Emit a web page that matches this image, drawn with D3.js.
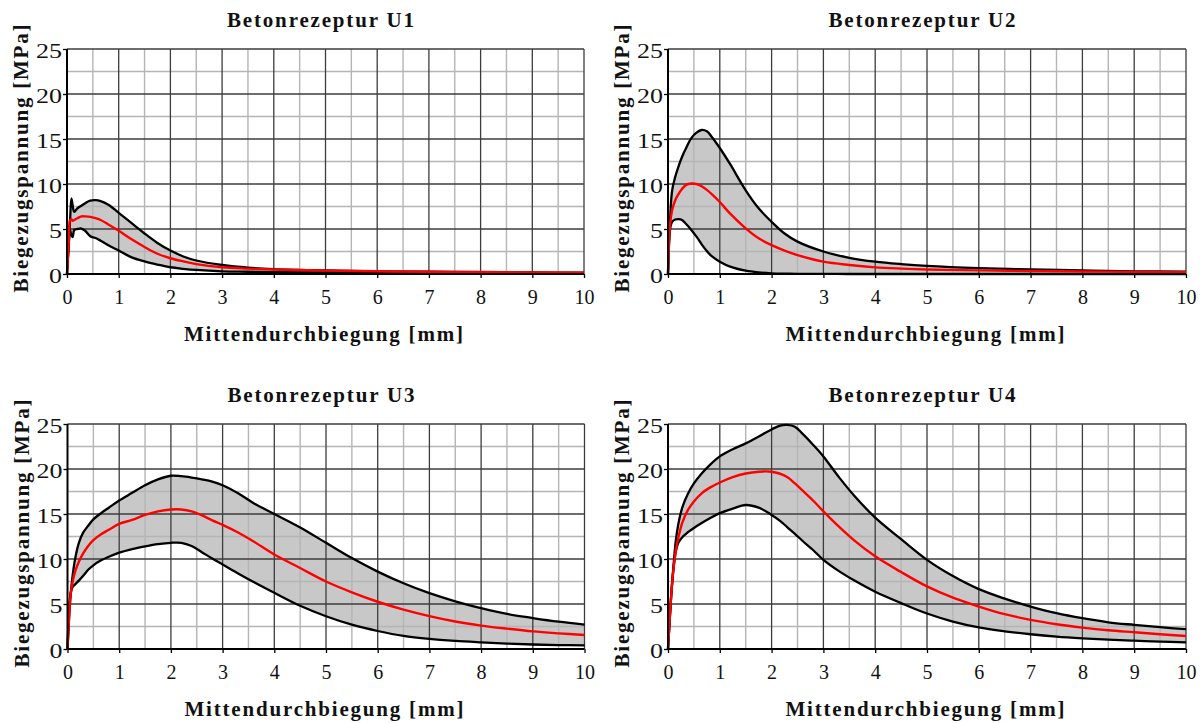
<!DOCTYPE html>
<html>
<head>
<meta charset="utf-8">
<script src="https://cdn.jsdelivr.net/npm/d3@7"></script>
<style>
  html, body { margin: 0; padding: 0; background: #fff; }
  svg { display: block; }
</style>
</head>
<body>
<svg id="chart" width="1200" height="723"></svg>
<script>
// ---------- data ----------
const titles = ["Betonrezeptur U1", "Betonrezeptur U2", "Betonrezeptur U3", "Betonrezeptur U4"];
const xLabel = "Mittendurchbiegung [mm]";
const yLabel = "Biegezugspannung [MPa]";
const xTickValues = [0, 1, 2, 3, 4, 5, 6, 7, 8, 9, 10];
const yTickValues = [0, 5, 10, 15, 20, 25];

const xU1     = [0, 0.03, 0.06, 0.085, 0.11, 0.14, 0.2, 0.28, 0.36, 0.45, 0.55, 0.65, 0.8, 1.0, 1.25, 1.5, 1.75, 2.0, 2.25, 2.5, 3, 3.5, 4, 5, 6, 7, 8, 9, 10];
const upperU1 = [0, 3.0, 6.0, 8.4, 7.6, 6.9, 7.3, 7.6, 7.9, 8.15, 8.2, 8.1, 7.7, 6.8, 5.65, 4.5, 3.45, 2.6, 1.95, 1.5, 1.0, 0.7, 0.55, 0.4, 0.3, 0.25, 0.2, 0.17, 0.15];
const meanU1  = [0, 3.0, 6.0, 6.1, 5.9, 6.0, 6.2, 6.4, 6.4, 6.35, 6.2, 6.0, 5.5, 4.8, 3.85, 3.0, 2.25, 1.75, 1.4, 1.1, 0.75, 0.6, 0.5, 0.38, 0.3, 0.25, 0.22, 0.18, 0.15];
const lowerU1 = [0, 3.0, 4.9, 4.3, 4.1, 4.9, 5.0, 5.05, 4.75, 4.2, 4.0, 3.7, 3.2, 2.6, 1.85, 1.4, 1.05, 0.75, 0.58, 0.45, 0.3, 0.25, 0.2, 0.15, 0.12, 0.1, 0.09, 0.08, 0.08];

const xU2     = [0, 0.04, 0.08, 0.14, 0.2, 0.27, 0.35, 0.45, 0.55, 0.65, 0.75, 0.85, 1.0, 1.2, 1.5, 1.75, 2.0, 2.25, 2.5, 3, 3.5, 4, 4.5, 5, 6, 7, 8, 9, 10];
const upperU2 = [0, 6.0, 9.3, 10.8, 11.9, 13.0, 14.0, 15.1, 15.7, 16.0, 15.85, 15.2, 14.0, 12.2, 9.3, 7.3, 5.8, 4.5, 3.6, 2.5, 1.8, 1.37, 1.1, 0.9, 0.65, 0.5, 0.4, 0.3, 0.25];
const meanU2  = [0, 5.5, 7.1, 8.2, 8.85, 9.45, 9.9, 10.05, 10.0, 9.75, 9.35, 8.85, 8.0, 6.7, 5.07, 3.96, 3.2, 2.6, 2.1, 1.37, 1.0, 0.74, 0.6, 0.5, 0.4, 0.33, 0.28, 0.24, 0.2];
const lowerU2 = [0, 5.0, 5.8, 6.05, 6.1, 6.0, 5.55, 4.9, 4.15, 3.3, 2.55, 1.95, 1.37, 0.82, 0.37, 0.18, 0.08, 0.04, 0.02, 0.01, 0, 0, 0, 0, 0, 0, 0, 0, 0];

const xU3     = [0, 0.06, 0.1, 0.15, 0.22, 0.3, 0.4, 0.5, 0.65, 0.8, 1.0, 1.25, 1.5, 1.75, 2.0, 2.2, 2.4, 2.6, 2.8, 3.0, 3.3, 3.6, 4.0, 4.5, 5.0, 5.5, 6.0, 6.5, 7, 7.5, 8, 8.5, 9, 9.5, 10];
const upperU3 = [0, 6.0, 8.2, 10.1, 11.8, 12.9, 13.7, 14.4, 15.1, 15.7, 16.5, 17.35, 18.2, 18.85, 19.25, 19.2, 19.05, 18.85, 18.6, 18.2, 17.3, 16.2, 15.0, 13.5, 11.8, 10.1, 8.6, 7.3, 6.2, 5.3, 4.55, 3.9, 3.44, 3.03, 2.7];
const meanU3  = [0, 6.0, 7.5, 8.65, 9.7, 10.6, 11.45, 12.1, 12.75, 13.25, 13.9, 14.35, 14.9, 15.3, 15.5, 15.5, 15.3, 14.85, 14.3, 13.8, 12.95, 11.95, 10.5, 9.0, 7.5, 6.3, 5.25, 4.37, 3.65, 3.05, 2.6, 2.26, 1.96, 1.74, 1.55];
const lowerU3 = [0, 6.2, 6.9, 7.2, 7.6, 8.1, 8.8, 9.3, 9.85, 10.25, 10.7, 11.1, 11.4, 11.65, 11.8, 11.8, 11.45, 10.75, 10.05, 9.4, 8.4, 7.45, 6.25, 4.8, 3.64, 2.7, 2.0, 1.45, 1.12, 0.9, 0.74, 0.6, 0.5, 0.44, 0.4];

const xU4     = [0, 0.06, 0.1, 0.15, 0.2, 0.28, 0.38, 0.5, 0.65, 0.8, 1.0, 1.25, 1.5, 1.75, 2.0, 2.15, 2.3, 2.45, 2.6, 2.8, 3.0, 3.3, 3.6, 4.0, 4.5, 5.0, 5.5, 6.0, 6.5, 7, 7.5, 8, 8.5, 9, 9.5, 10];
const upperU4 = [0, 5.8, 8.8, 12.0, 13.9, 15.8, 17.2, 18.4, 19.5, 20.4, 21.4, 22.2, 22.85, 23.6, 24.4, 24.8, 24.9, 24.7, 23.9, 22.7, 21.4, 19.1, 17.0, 14.6, 12.2, 9.9, 8.1, 6.65, 5.6, 4.72, 3.98, 3.42, 2.97, 2.68, 2.42, 2.2];
const meanU4  = [0, 5.8, 8.6, 10.9, 12.4, 14.1, 15.4, 16.4, 17.3, 17.9, 18.5, 19.1, 19.5, 19.7, 19.7, 19.5, 19.1, 18.4, 17.6, 16.5, 15.3, 13.6, 12.05, 10.3, 8.55, 6.95, 5.7, 4.72, 3.87, 3.23, 2.75, 2.38, 2.08, 1.86, 1.64, 1.45];
const lowerU4 = [0, 5.8, 8.6, 10.8, 11.8, 12.45, 12.95, 13.45, 14.0, 14.5, 15.1, 15.6, 16.0, 15.7, 14.9, 14.3, 13.55, 12.8, 12.0, 11.0, 9.9, 8.65, 7.6, 6.36, 5.1, 3.94, 3.05, 2.4, 1.97, 1.64, 1.38, 1.19, 1.04, 0.93, 0.82, 0.74];

// ---------- layout ----------
const panels = [
  { title: titles[0], x: xU1, upper: upperU1, mean: meanU1, lower: lowerU1, left: 67,  right: 584,  top: 49,  bottom: 274 },
  { title: titles[1], x: xU2, upper: upperU2, mean: meanU2, lower: lowerU2, left: 668, right: 1186, top: 49,  bottom: 274 },
  { title: titles[2], x: xU3, upper: upperU3, mean: meanU3, lower: lowerU3, left: 67.5, right: 584.5, top: 424, bottom: 649 },
  { title: titles[3], x: xU4, upper: upperU4, mean: meanU4, lower: lowerU4, left: 668, right: 1186, top: 424, bottom: 649 }
];

const FONT = '"Liberation Serif", serif';
const svg = d3.select("#chart");
const curve = d3.curveCatmullRom.alpha(0.5);

panels.forEach(p => {
  const xs = d3.scaleLinear().domain([0, 10]).range([p.left, p.right]);
  const ys = d3.scaleLinear().domain([0, 25]).range([p.bottom, p.top]);
  const g = svg.append("g");
  const pts = p.x.map((xv, i) => ({ x: xv, u: p.upper[i], m: p.mean[i], l: p.lower[i] }));

  // band
  g.append("path")
    .datum(pts)
    .attr("fill", "#c8c8c8")
    .attr("d", d3.area().curve(curve)
      .x(d => xs(d.x)).y0(d => ys(d.l)).y1(d => ys(d.u)));

  // minor grid
  const minorX = d3.range(0.5, 10, 1);
  const minorY = d3.range(2.5, 25, 5);
  g.selectAll(".mx").data(minorX).join("line")
    .attr("x1", d => xs(d)).attr("x2", d => xs(d))
    .attr("y1", ys(0)).attr("y2", ys(25))
    .attr("stroke", "#b5b5b5").attr("stroke-width", 1.4);
  g.selectAll(".my").data(minorY).join("line")
    .attr("x1", xs(0)).attr("x2", xs(10))
    .attr("y1", d => ys(d)).attr("y2", d => ys(d))
    .attr("stroke", "#b5b5b5").attr("stroke-width", 1.4);
  // major grid
  g.selectAll(".Mx").data(xTickValues.filter(d => d > 0)).join("line")
    .attr("x1", d => xs(d)).attr("x2", d => xs(d))
    .attr("y1", ys(0)).attr("y2", ys(25))
    .attr("stroke", "#3c3c3c").attr("stroke-width", 1.3);
  g.selectAll(".My").data(yTickValues.filter(d => d > 0)).join("line")
    .attr("x1", xs(0)).attr("x2", xs(10))
    .attr("y1", d => ys(d)).attr("y2", d => ys(d))
    .attr("stroke", "#3c3c3c").attr("stroke-width", 1.3);

  // curves
  const mk = key => d3.line().curve(curve).x(d => xs(d.x)).y(d => ys(d[key]));
  g.append("path").datum(pts).attr("fill", "none").attr("stroke", "#000").attr("stroke-width", 2.3).attr("stroke-linejoin", "round").attr("d", mk("u"));
  g.append("path").datum(pts).attr("fill", "none").attr("stroke", "#000").attr("stroke-width", 2.3).attr("stroke-linejoin", "round").attr("d", mk("l"));
  g.append("path").datum(pts).attr("fill", "none").attr("stroke", "#ff0000").attr("stroke-width", 2.4).attr("stroke-linejoin", "round").attr("d", mk("m"));

  // axes
  const ax = g.append("g").attr("transform", `translate(0,${p.bottom})`)
    .call(d3.axisBottom(xs).tickValues(xTickValues).tickSize(4).tickPadding(10).tickFormat(d3.format("d")));
  const ay = g.append("g").attr("transform", `translate(${p.left},0)`)
    .call(d3.axisLeft(ys).tickValues(yTickValues).tickSize(4).tickPadding(1).tickFormat(d3.format("d")));
  [ax, ay].forEach(a => {
    a.attr("font-family", null).attr("font-size", null);
    a.select(".domain").attr("stroke", "#000").attr("stroke-width", 2);
    a.selectAll(".tick line").attr("stroke", "#000").attr("stroke-width", 1.3);
    a.selectAll(".tick text")
      .style("font-family", FONT).style("font-size", "20px").attr("fill", "#111");
  });
  ay.select(".domain").attr("d", `M0,${p.bottom}V${p.top}`);
  ax.select(".domain").attr("d", `M${p.left},0H${p.right}`);
  ax.selectAll(".tick text").attr("dy", null).attr("y", 30);
  ay.selectAll(".tick text").attr("dy", null).attr("y", 8.5)
    .attr("textLength", d => String(d).length * 13)
    .attr("lengthAdjust", "spacingAndGlyphs");

  const cx = (p.left + p.right) / 2;
  const cy = (p.top + p.bottom) / 2;

  const label = (txt, len) => g.append("text").text(txt)
    .style("font-family", FONT).style("font-weight", "bold").style("font-size", "21px")
    .attr("fill", "#111").attr("text-anchor", "middle")
    .attr("textLength", len).attr("lengthAdjust", "spacing");

  label(p.title, 187).attr("x", cx - 5).attr("y", p.top - 22);
  label(xLabel, 279).attr("x", cx - 2).attr("y", p.bottom + 67);
  label(yLabel, 268).attr("transform", `translate(${p.left - 39},${cy - 3}) rotate(-90)`);
});
</script>
</body>
</html>
